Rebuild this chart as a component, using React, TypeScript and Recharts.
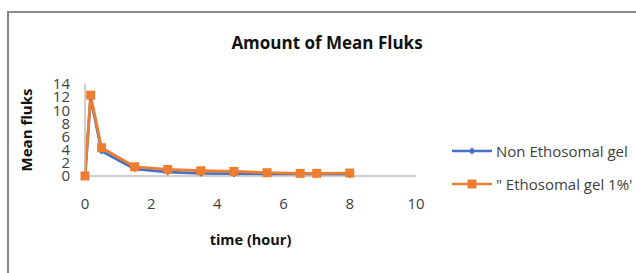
import React from 'react';
import { LineChart, Line, XAxis, YAxis } from 'recharts';

const times = [0, 0.17, 0.5, 1.5, 2.5, 3.5, 4.5, 5.5, 6.5, 7, 8];
const nonEthosomal = [0, 11.9, 3.8, 1.1, 0.6, 0.4, 0.35, 0.3, 0.25, 0.25, 0.2];
const ethosomal = [0, 12.3, 4.3, 1.4, 1.0, 0.8, 0.7, 0.5, 0.4, 0.4, 0.45];
const xTicks = [0, 2, 4, 6, 8, 10];
const yTicks = [0, 2, 4, 6, 8, 10, 12, 14];
const seriesNames = ['Non Ethosomal gel', '" Ethosomal gel 1%\''];
const title = 'Amount of Mean Fluks';
const xLabel = 'time (hour)';
const yLabel = 'Mean fluks';

const data = times.map((t, i) => ({ t, a: nonEthosomal[i], b: ethosomal[i] }));

const BLUE = '#4472C4';
const ORANGE = '#ED7D31';
const FONT = "'Open Sans', 'Noto Sans', sans-serif";

const Square = (props: any) => {
  const { cx, cy, index } = props;
  if (cx == null || cy == null) return <g key={index} />;
  return <rect key={index} x={cx - 4.5} y={cy - 4.5} width={9} height={9} fill={ORANGE} />;
};

const Diamond = (props: any) => {
  const { cx, cy, index } = props;
  if (cx == null || cy == null) return <g key={index} />;
  return (
    <polygon
      key={index}
      points={`${cx},${cy - 3.5} ${cx + 3.5},${cy} ${cx},${cy + 3.5} ${cx - 3.5},${cy}`}
      fill={BLUE}
    />
  );
};

const LegendBox = () => (
  <div
    style={{
      position: 'absolute',
      left: 452,
      top: 134,
      fontFamily: FONT,
      fontSize: 15,
      color: '#404040',
    }}
  >
    {[0, 1].map((i) => (
      <div key={i} style={{ display: 'flex', alignItems: 'center', height: 33 }}>
        <svg width={42} height={12} style={{ marginRight: 2 }}>
          <line x1={0} y1={6} x2={40} y2={6} stroke={i === 0 ? BLUE : ORANGE} strokeWidth={2.5} />
          {i === 0 ? (
            <polygon points="20,2.5 23.5,6 20,9.5 16.5,6" fill={BLUE} />
          ) : (
            <rect x={15.5} y={1.5} width={9} height={9} fill={ORANGE} />
          )}
        </svg>
        <span style={{ whiteSpace: 'nowrap' }}>{seriesNames[i]}</span>
      </div>
    ))}
  </div>
);

export default function App() {
  return (
    <div
      style={{
        position: 'fixed',
        left: 0,
        top: 0,
        width: 636,
        height: 273,
        overflow: 'hidden',
        background: '#fff',
      }}
    >
      <div
        style={{
          position: 'absolute',
          left: 7,
          top: 11,
          width: 800,
          height: 400,
          border: '2px solid #8a8a8a',
        }}
      />
      <div
        style={{
          position: 'absolute',
          left: 0,
          top: 31,
          width: 654,
          textAlign: 'center',
          fontFamily: FONT,
          fontWeight: 700,
          fontSize: 17,
          color: '#111',
        }}
      >
        {title}
      </div>
      <div style={{ position: 'absolute', left: 0, top: 0 }}>
        <LineChart
          width={636}
          height={273}
          data={data}
          margin={{ top: 84, right: 220, bottom: 47, left: 0 }}
        >
          <XAxis
            dataKey="t"
            type="number"
            domain={[0, 10]}
            ticks={xTicks}
            interval={0}
            tickLine={false}
            tickSize={0}
            tickMargin={22}
            height={50}
            axisLine={{ stroke: '#bfbfbf', strokeWidth: 1.5 }}
            tick={{ fill: '#404040', fontSize: 15, fontFamily: FONT }}
            label={{
              value: xLabel,
              position: 'bottom',
              offset: 9,
              style: { fill: '#111', fontSize: 14.5, fontWeight: 700, fontFamily: FONT },
            }}
          />
          <YAxis
            type="number"
            domain={[0, 14]}
            ticks={yTicks}
            interval={0}
            width={85}
            tickLine={false}
            tickSize={0}
            tickMargin={15}
            axisLine={{ stroke: '#bfbfbf', strokeWidth: 1.5 }}
            tick={{ fill: '#404040', fontSize: 15, fontFamily: FONT }}
            label={{
              value: yLabel,
              angle: -90,
              position: 'insideLeft',
              offset: 27,
              style: { textAnchor: 'middle', fill: '#111', fontSize: 15, fontWeight: 700, fontFamily: FONT },
            }}
          />
          <Line
            dataKey="a"
            name={seriesNames[0]}
            stroke={BLUE}
            strokeWidth={2.8}
            dot={Diamond}
            activeDot={false}
            isAnimationActive={false}
          />
          <Line
            dataKey="b"
            name={seriesNames[1]}
            stroke={ORANGE}
            strokeWidth={2.8}
            dot={Square}
            activeDot={false}
            isAnimationActive={false}
          />
        </LineChart>
      </div>
      <LegendBox />
    </div>
  );
}
